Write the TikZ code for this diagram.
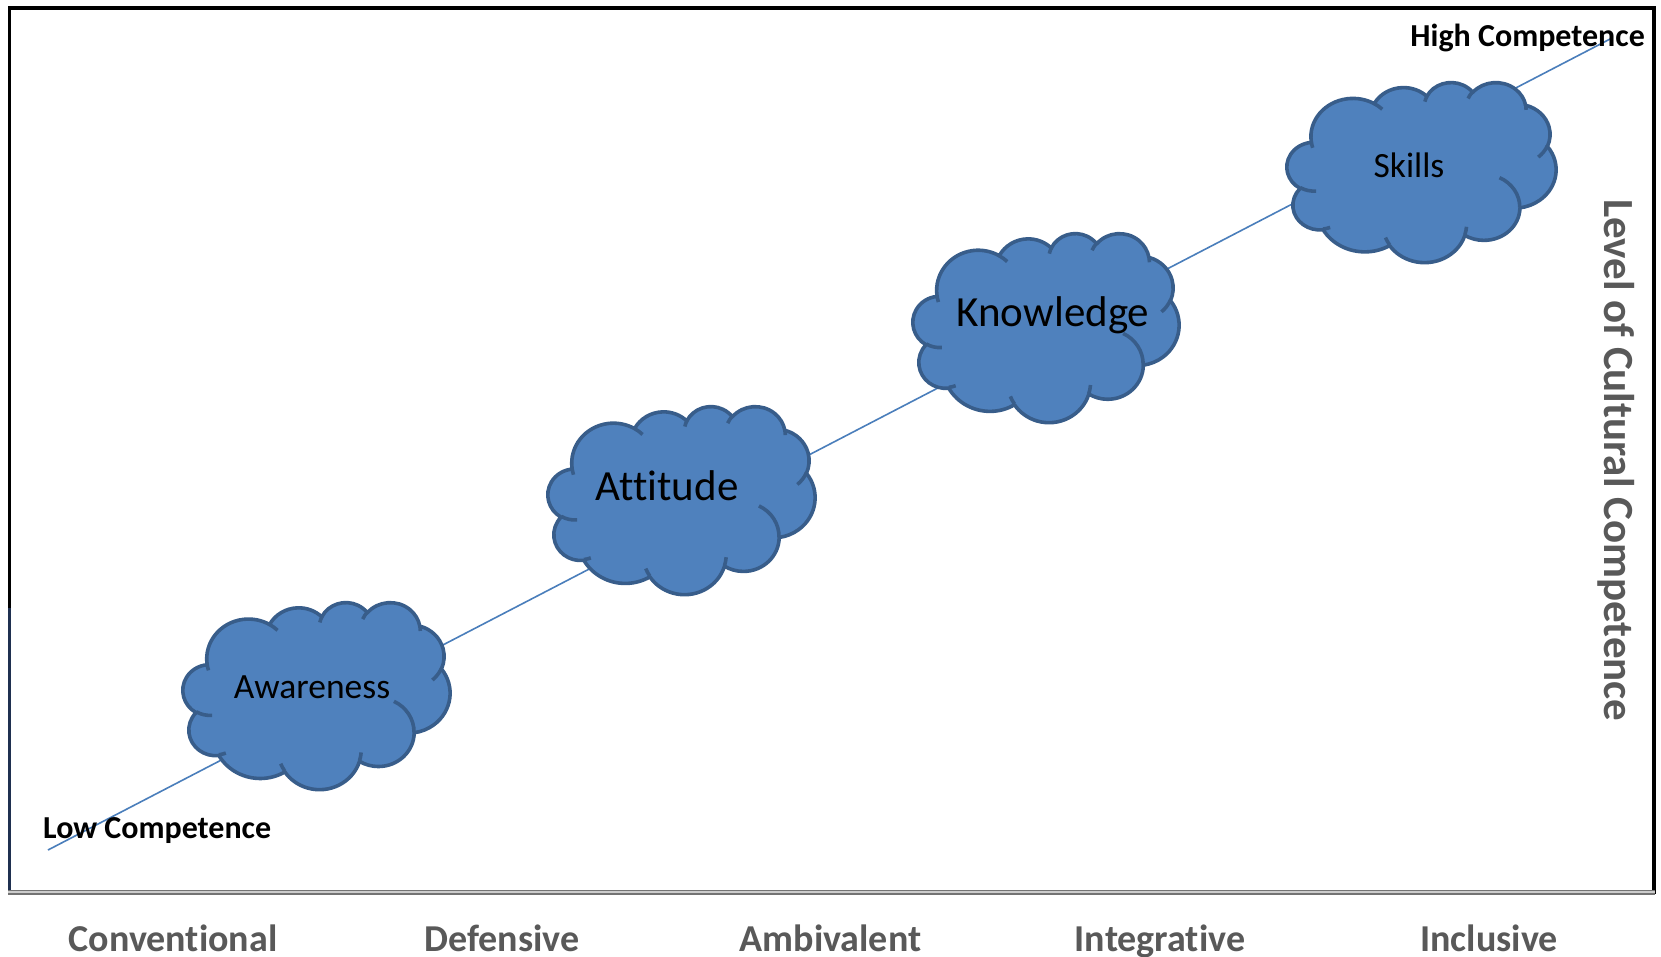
\documentclass[tikz,border=0pt]{standalone}
\usepackage{fontspec}
\setmainfont[Ligatures=NoCommon]{Carlito}
\definecolor{cloudblue}{HTML}{4F81BD}
\definecolor{cloudedge}{HTML}{385D8A}
\definecolor{trendblue}{HTML}{4A7EBB}
\definecolor{labelgray}{HTML}{595959}
\definecolor{axisnavy}{HTML}{1F3050}

% One arc of the cloud outline: x radius, y radius, start angle, sweep
% (angles measured on the ellipse as seen, converted to parametric ones)
\newcommand\cldarc[4]{arc[start angle={atan2(#1*sin(#3),#2*cos(#3))},
  delta angle={mod(atan2(#1*sin(#3+#4),#2*cos(#3+#4))-atan2(#1*sin(#3),#2*cos(#3))+720,360)},
  x radius=#1, y radius=#2]}

% Cloud in a 432 x 432 box whose top-left corner is (#1,#2), size #3 x #4
\newcommand\drawcloud[4]{%
  \pgfmathsetmacro\cldsx{#3/432}%
  \pgfmathsetmacro\cldsy{#4/432}%
  \begin{scope}[shift={(#1,#2)}, x=\cldsx pt, y=-\cldsy pt]
    \path[cloudbody] (39.00,143.70)
      \cldarc{67.53}{91.90}{-190.4875}{123.7805}
      \cldarc{53.33}{72.67}{-144.1024}{89.9452}
      \cldarc{43.65}{59.45}{-145.8079}{99.7230}
      \cldarc{48.57}{65.95}{-130.9861}{117.2417}
      \cldarc{53.33}{72.73}{-78.7089}{109.0269}
      \cldarc{67.75}{92.20}{-46.2673}{130.2690}
      \cldarc{57.85}{78.67}{0.6250}{114.0333}
      \cldarc{67.52}{92.15}{22.4516}{115.1726}
      \cldarc{77.20}{105.43}{66.2426}{75.7110}
      \cldarc{43.60}{59.18}{-274.9421}{146.7356}
      \cldarc{43.45}{59.45}{-246.8285}{152.5189}
      -- cycle;
    \path[cloudcrease] (46.93,261.77) \cldarc{43.45}{59.45}{86.7420}{26.4295};
    \path[cloudcrease] (69.28,348.99) \cldarc{43.60}{59.18}{73.6105}{11.4475};
    \path[cloudcrease] (164.78,390.90) \cldarc{67.52}{92.15}{137.6242}{14.0811};
    \path[cloudcrease] (288.27,347.51) \cldarc{67.52}{92.15}{6.4533}{15.9984};
    \path[cloudcrease] (341.29,229.54) \cldarc{57.85}{78.67}{-70.2924}{70.9174};
    \path[cloudcrease] (417.98,153.54) \cldarc{53.33}{72.73}{30.3180}{27.7515};
    \path[cloudcrease] (383.24,54.26) \cldarc{48.57}{65.95}{-13.7443}{14.8589};
    \path[cloudcrease] (290.78,39.52) \cldarc{48.57}{65.95}{-149.1815}{18.1954};
    \path[cloudcrease] (221.41,47.20) \cldarc{43.65}{59.45}{-163.4943}{17.6864};
    \path[cloudcrease] (140.00,51.92) \cldarc{67.53}{91.90}{-66.7070}{12.3194};
    \path[cloudcrease] (41.27,157.89) \cldarc{67.53}{91.90}{157.6544}{11.8582};
  \end{scope}}

\tikzset{
  cloudbody/.style={fill=cloudblue, draw=cloudedge, line width=3.6pt, line join=round},
  cloudcrease/.style={draw=cloudedge, line width=3.6pt},
  frameline/.style={draw=black, line width=3.6pt},
  trend/.style={draw=trendblue, line width=1.6pt},
  cloudtext/.style={anchor=base, text=black, inner sep=0pt},
  endlabel/.style={inner sep=0pt, text=black, font=\bfseries\fontsize{32}{38}\selectfont},
  stagelabel/.style={anchor=base, inner sep=0pt, text=labelgray, font=\bfseries\fontsize{38}{44}\selectfont},
}

\begin{document}
\begin{tikzpicture}[x=1pt, y=-1pt]
  \useasboundingbox[fill=white] (0,0) rectangle (1661,957);

  % frame of the chart area
  \draw[frameline, line cap=rect] (9.5,8) -- (1654,8) -- (1654,892);
  \draw[frameline] (9.5,6.2) -- (9.5,608);
  \draw[draw=axisnavy, line width=2.6pt] (9.5,608) -- (9.5,893);
  \draw[draw=gray!90!black, line width=5pt] (8,892) -- (1655,892);
  \draw[draw=gray!40, line width=1.4pt] (8,892) -- (1655,892);

  % rising line from low to high competence
  \coordinate (lowend) at (48,850);
  \coordinate (highend) at (1612,38);
  \draw[trend] (lowend) -- (highend);

  % the four stages
  \drawcloud{183}{602}{267}{187}
  \drawcloud{548}{406}{267}{188}
  \drawcloud{913}{233}{266}{189}
  \drawcloud{1287}{82}{269}{180}

  \node[cloudtext, font=\fontsize{35.5}{42}\selectfont] (aware) at (312,698) {Awareness};
  \node[cloudtext, font=\fontsize{43}{50}\selectfont] (attit) at (667,500.5) {Attitude};
  \node[cloudtext, font=\fontsize{43}{50}\selectfont] (knowl) at (1053,326.5) {Knowledge};
  \node[cloudtext, font=\fontsize{35.5}{42}\selectfont] (skill) at (1409,178) {Skills};

  % ends of the scale
  \node[endlabel, anchor=base west] (low) at (43,838) {Low Competence};
  \node[endlabel, anchor=base east] (high) at (1645,47) {High Competence};

  % vertical axis title
  \node[rotate=-90, anchor=base west, inner sep=0pt, text=labelgray,
        font=\bfseries\fontsize{43}{50}\selectfont] (ytitle) at (1604,199)
        {Level of Cultural Competence};

  % stages along the bottom
  \node[stagelabel] (conv) at (173,951) {Conventional};
  \node[stagelabel] (defe) at (502,951) {Defensive};
  \node[stagelabel] (ambi) at (830.5,951) {Ambivalent};
  \node[stagelabel] (inte) at (1160,951) {Integrative};
  \node[stagelabel] (incl) at (1489,951) {Inclusive};
\end{tikzpicture}
\end{document}
